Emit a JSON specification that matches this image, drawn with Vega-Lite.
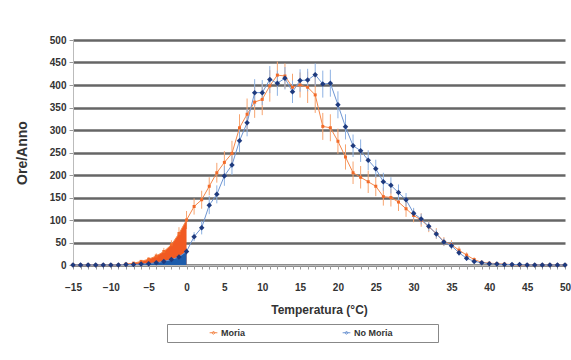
{
  "$schema": "https://vega.github.io/schema/vega-lite/v6.json",
  "width": 492,
  "height": 225,
  "autosize": {"type": "none"},
  "padding": {"left": 73, "top": 40, "right": 6, "bottom": 95},
  "background": "white",
  "config": {
    "view": {"stroke": null},
    "font": "Liberation Sans",
    "axis": {"labelFont": "Liberation Sans", "labelFontWeight": "bold", "labelColor": "#333333", "labelFontSize": 10, "titleFont": "Liberation Sans", "titleFontWeight": "bold", "titleColor": "#333333", "domainColor": "#bbbbbb", "tickColor": "#999999"}
  },
  "data": {"values": [
    {"t":-15,"s":"Moria","v":0,"lo":0,"hi":0},{"t":-14,"s":"Moria","v":0,"lo":0,"hi":0},{"t":-13,"s":"Moria","v":0,"lo":0,"hi":0},{"t":-12,"s":"Moria","v":0,"lo":0,"hi":0},{"t":-11,"s":"Moria","v":0,"lo":0,"hi":0},{"t":-10,"s":"Moria","v":0,"lo":0,"hi":0},{"t":-9,"s":"Moria","v":0,"lo":0,"hi":1},
    {"t":-8,"s":"Moria","v":2,"lo":1,"hi":3},{"t":-7,"s":"Moria","v":4,"lo":2,"hi":6},{"t":-6,"s":"Moria","v":8,"lo":5,"hi":11},{"t":-5,"s":"Moria","v":13,"lo":9,"hi":17},{"t":-4,"s":"Moria","v":20,"lo":14,"hi":26},{"t":-3,"s":"Moria","v":30,"lo":22,"hi":38},{"t":-2,"s":"Moria","v":45,"lo":35,"hi":55},{"t":-1,"s":"Moria","v":70,"lo":56,"hi":84},{"t":0,"s":"Moria","v":100,"lo":80,"hi":120},
    {"t":1,"s":"Moria","v":130,"lo":112,"hi":148},{"t":2,"s":"Moria","v":145,"lo":125,"hi":165},{"t":3,"s":"Moria","v":175,"lo":155,"hi":195},{"t":4,"s":"Moria","v":205,"lo":183,"hi":227},{"t":5,"s":"Moria","v":228,"lo":203,"hi":253},{"t":6,"s":"Moria","v":248,"lo":220,"hi":276},{"t":7,"s":"Moria","v":305,"lo":275,"hi":335},{"t":8,"s":"Moria","v":335,"lo":300,"hi":370},{"t":9,"s":"Moria","v":362,"lo":327,"hi":397},{"t":10,"s":"Moria","v":368,"lo":333,"hi":403},
    {"t":11,"s":"Moria","v":398,"lo":363,"hi":433},{"t":12,"s":"Moria","v":422,"lo":392,"hi":452},{"t":13,"s":"Moria","v":420,"lo":392,"hi":448},{"t":14,"s":"Moria","v":395,"lo":365,"hi":425},{"t":15,"s":"Moria","v":400,"lo":372,"hi":428},{"t":16,"s":"Moria","v":395,"lo":360,"hi":430},{"t":17,"s":"Moria","v":378,"lo":338,"hi":418},{"t":18,"s":"Moria","v":308,"lo":278,"hi":338},{"t":19,"s":"Moria","v":305,"lo":275,"hi":335},{"t":20,"s":"Moria","v":275,"lo":247,"hi":303},
    {"t":21,"s":"Moria","v":240,"lo":212,"hi":268},{"t":22,"s":"Moria","v":205,"lo":180,"hi":230},{"t":23,"s":"Moria","v":195,"lo":170,"hi":220},{"t":24,"s":"Moria","v":185,"lo":160,"hi":210},{"t":25,"s":"Moria","v":175,"lo":153,"hi":197},{"t":26,"s":"Moria","v":152,"lo":132,"hi":172},{"t":27,"s":"Moria","v":150,"lo":130,"hi":170},{"t":28,"s":"Moria","v":140,"lo":120,"hi":160},{"t":29,"s":"Moria","v":125,"lo":107,"hi":143},{"t":30,"s":"Moria","v":110,"lo":95,"hi":125},
    {"t":31,"s":"Moria","v":100,"lo":85,"hi":115},{"t":32,"s":"Moria","v":85,"lo":73,"hi":97},{"t":33,"s":"Moria","v":70,"lo":58,"hi":82},{"t":34,"s":"Moria","v":52,"lo":42,"hi":62},{"t":35,"s":"Moria","v":45,"lo":35,"hi":55},{"t":36,"s":"Moria","v":33,"lo":25,"hi":41},{"t":37,"s":"Moria","v":22,"lo":16,"hi":28},{"t":38,"s":"Moria","v":12,"lo":7,"hi":17},{"t":39,"s":"Moria","v":6,"lo":3,"hi":9},{"t":40,"s":"Moria","v":4,"lo":2,"hi":6},
    {"t":41,"s":"Moria","v":3,"lo":1,"hi":5},{"t":42,"s":"Moria","v":2,"lo":1,"hi":3},{"t":43,"s":"Moria","v":1,"lo":0,"hi":2},{"t":44,"s":"Moria","v":0,"lo":0,"hi":1},{"t":45,"s":"Moria","v":0,"lo":0,"hi":0},{"t":46,"s":"Moria","v":0,"lo":0,"hi":0},{"t":47,"s":"Moria","v":0,"lo":0,"hi":0},{"t":48,"s":"Moria","v":0,"lo":0,"hi":0},{"t":49,"s":"Moria","v":0,"lo":0,"hi":0},{"t":50,"s":"Moria","v":0,"lo":0,"hi":0},
    {"t":-15,"s":"No Moria","v":0,"lo":0,"hi":0},{"t":-14,"s":"No Moria","v":0,"lo":0,"hi":0},{"t":-13,"s":"No Moria","v":0,"lo":0,"hi":0},{"t":-12,"s":"No Moria","v":0,"lo":0,"hi":0},{"t":-11,"s":"No Moria","v":0,"lo":0,"hi":0},{"t":-10,"s":"No Moria","v":0,"lo":0,"hi":0},{"t":-9,"s":"No Moria","v":0,"lo":0,"hi":0},
    {"t":-8,"s":"No Moria","v":1,"lo":0,"hi":2},{"t":-7,"s":"No Moria","v":1,"lo":0,"hi":2},{"t":-6,"s":"No Moria","v":2,"lo":1,"hi":3},{"t":-5,"s":"No Moria","v":3,"lo":2,"hi":4},{"t":-4,"s":"No Moria","v":5,"lo":3,"hi":7},{"t":-3,"s":"No Moria","v":8,"lo":5,"hi":11},{"t":-2,"s":"No Moria","v":12,"lo":8,"hi":16},{"t":-1,"s":"No Moria","v":18,"lo":13,"hi":23},{"t":0,"s":"No Moria","v":30,"lo":22,"hi":38},
    {"t":1,"s":"No Moria","v":63,"lo":53,"hi":73},{"t":2,"s":"No Moria","v":83,"lo":68,"hi":98},{"t":3,"s":"No Moria","v":133,"lo":113,"hi":153},{"t":4,"s":"No Moria","v":157,"lo":137,"hi":177},{"t":5,"s":"No Moria","v":198,"lo":176,"hi":220},{"t":6,"s":"No Moria","v":222,"lo":200,"hi":244},{"t":7,"s":"No Moria","v":276,"lo":251,"hi":301},{"t":8,"s":"No Moria","v":316,"lo":286,"hi":346},{"t":9,"s":"No Moria","v":383,"lo":353,"hi":413},{"t":10,"s":"No Moria","v":383,"lo":355,"hi":411},
    {"t":11,"s":"No Moria","v":412,"lo":382,"hi":442},{"t":12,"s":"No Moria","v":404,"lo":376,"hi":432},{"t":13,"s":"No Moria","v":415,"lo":390,"hi":440},{"t":14,"s":"No Moria","v":385,"lo":360,"hi":410},{"t":15,"s":"No Moria","v":410,"lo":385,"hi":435},{"t":16,"s":"No Moria","v":411,"lo":386,"hi":436},{"t":17,"s":"No Moria","v":423,"lo":398,"hi":448},{"t":18,"s":"No Moria","v":402,"lo":372,"hi":432},{"t":19,"s":"No Moria","v":404,"lo":374,"hi":434},{"t":20,"s":"No Moria","v":356,"lo":326,"hi":386},
    {"t":21,"s":"No Moria","v":307,"lo":279,"hi":335},{"t":22,"s":"No Moria","v":265,"lo":240,"hi":290},{"t":23,"s":"No Moria","v":254,"lo":229,"hi":279},{"t":24,"s":"No Moria","v":233,"lo":211,"hi":255},{"t":25,"s":"No Moria","v":214,"lo":194,"hi":234},{"t":26,"s":"No Moria","v":185,"lo":165,"hi":205},{"t":27,"s":"No Moria","v":177,"lo":159,"hi":195},{"t":28,"s":"No Moria","v":161,"lo":143,"hi":179},{"t":29,"s":"No Moria","v":145,"lo":130,"hi":160},{"t":30,"s":"No Moria","v":115,"lo":103,"hi":127},
    {"t":31,"s":"No Moria","v":102,"lo":90,"hi":114},{"t":32,"s":"No Moria","v":86,"lo":76,"hi":96},{"t":33,"s":"No Moria","v":69,"lo":59,"hi":79},{"t":34,"s":"No Moria","v":51,"lo":43,"hi":59},{"t":35,"s":"No Moria","v":43,"lo":35,"hi":51},{"t":36,"s":"No Moria","v":27,"lo":21,"hi":33},{"t":37,"s":"No Moria","v":15,"lo":10,"hi":20},{"t":38,"s":"No Moria","v":8,"lo":4,"hi":12},{"t":39,"s":"No Moria","v":5,"lo":2,"hi":8},{"t":40,"s":"No Moria","v":3,"lo":1,"hi":5},
    {"t":41,"s":"No Moria","v":2,"lo":1,"hi":3},{"t":42,"s":"No Moria","v":1,"lo":0,"hi":2},{"t":43,"s":"No Moria","v":1,"lo":0,"hi":2},{"t":44,"s":"No Moria","v":1,"lo":0,"hi":1},{"t":45,"s":"No Moria","v":0,"lo":0,"hi":1},{"t":46,"s":"No Moria","v":0,"lo":0,"hi":0},{"t":47,"s":"No Moria","v":0,"lo":0,"hi":0},{"t":48,"s":"No Moria","v":0,"lo":0,"hi":0},{"t":49,"s":"No Moria","v":0,"lo":0,"hi":0},{"t":50,"s":"No Moria","v":0,"lo":0,"hi":0}
  ]},
  "encoding": {
    "x": {"field": "t", "type": "quantitative", "scale": {"domain": [-15, 50], "nice": false, "zero": false},
      "axis": {"title": "Temperatura (°C)", "titleFontSize": 12, "titlePadding": 12, "grid": false, "tickSize": 4, "labelPadding": 13, "labelOverlap": false, "labelFlush": false,
        "values": [-15,-14,-13,-12,-11,-10,-9,-8,-7,-6,-5,-4,-3,-2,-1,0,1,2,3,4,5,6,7,8,9,10,11,12,13,14,15,16,17,18,19,20,21,22,23,24,25,26,27,28,29,30,31,32,33,34,35,36,37,38,39,40,41,42,43,44,45,46,47,48,49,50],
        "labelExpr": "datum.value % 5 === 0 ? datum.label : ''"}},
    "y": {"field": "v", "type": "quantitative", "scale": {"domain": [0, 500], "nice": false},
      "axis": {"title": "Ore/Anno", "titleFontSize": 14, "titlePadding": 20, "values": [0,50,100,150,200,250,300,350,400,450,500], "grid": true, "gridColor": "#666666", "gridWidth": 2.5, "tickSize": 4, "labelPadding": 3}}
  },
  "layer": [
    {"transform": [{"filter": "datum.s === 'Moria'"}], "mark": {"type": "rule", "color": "#F7A46F", "strokeWidth": 1},
      "encoding": {"y": {"field": "lo", "type": "quantitative"}, "y2": {"field": "hi"}}},
    {"transform": [{"filter": "datum.s === 'No Moria'"}], "mark": {"type": "rule", "color": "#8DB2E3", "strokeWidth": 1},
      "encoding": {"y": {"field": "lo", "type": "quantitative"}, "y2": {"field": "hi"}}},
    {"transform": [{"filter": "datum.s === 'Moria' && datum.t <= 0"}], "mark": {"type": "area", "color": "#F15A22", "opacity": 1}},
    {"transform": [{"filter": "datum.s === 'No Moria' && datum.t <= 0"}], "mark": {"type": "area", "color": "#1D5CAB", "opacity": 1}},
    {"mark": {"type": "line", "strokeWidth": 1},
      "encoding": {"color": {"field": "s", "type": "nominal", "scale": {"domain": ["Moria", "No Moria"], "range": ["#F4874A", "#6E95D2"]},
        "legend": {"title": ".", "titleOrient": "right", "titleColor": "white", "titleFontSize": 9, "titlePadding": 38, "orient": "none", "legendX": 94, "legendY": 284, "direction": "horizontal", "columns": 2, "columnPadding": 58, "padding": 4, "strokeColor": "#888888", "fillColor": "white", "symbolType": "M-1,0L1,0M0,-0.4L0.4,0L0,0.4L-0.4,0Z", "symbolSize": 60, "symbolStrokeWidth": 1, "symbolOffset": 38, "labelFont": "Liberation Sans", "labelFontWeight": "bold", "labelFontSize": 9, "labelColor": "#333333", "labelOffset": 3}}}},
    {"transform": [{"filter": "datum.s === 'Moria'"}], "mark": {"type": "point", "shape": "square", "size": 9, "filled": true, "color": "#F26B2A", "opacity": 1}},
    {"transform": [{"filter": "datum.s === 'No Moria'"}], "mark": {"type": "point", "shape": "diamond", "size": 30, "filled": true, "color": "#1E3A7E", "opacity": 1}}
  ]
}
